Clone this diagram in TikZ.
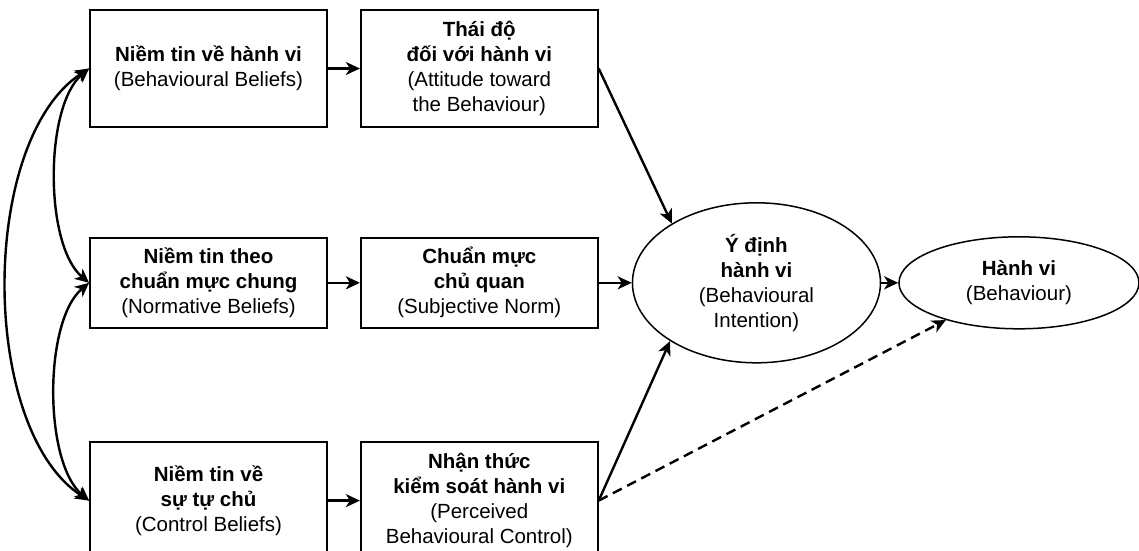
\documentclass[tikz,border=0pt]{standalone}
\usepackage{fontspec}
\setmainfont{Liberation Sans}
\usetikzlibrary{positioning,arrows.meta,shapes.geometric}

\tikzset{
  box/.style={draw, line width=1.8pt, minimum width=237pt, align=center, inner sep=0pt},
  oval/.style={draw, ellipse, line width=1.5pt, align=center, inner sep=0pt},
  link/.style={line width=2.4pt, -{Stealth[length=14pt,width=13pt,inset=4pt]}},
  twoway/.style={line width=2.4pt, {Stealth[length=14pt,width=13pt,inset=4pt]}-{Stealth[length=14pt,width=13pt,inset=4pt]}},
}

\begin{document}
\begin{tikzpicture}[x=1pt, y=1pt, font=\fontsize{20.5}{25}\selectfont]
    \clip (0,0) rectangle (1139,-550);
    \node [box, minimum height=117pt] (bb) at (208.5,-68.5) {\textbf{Niềm tin về hành vi}\\(Behavioural Beliefs)};
    \node [box, minimum height=117pt, right=32pt of bb] (att) {\textbf{Thái độ}\\\textbf{đối với hành vi}\\(Attitude toward\\the Behaviour)};
    \node [box, minimum height=90pt, below=109pt of bb] (nb) {\textbf{Niềm tin theo}\\\textbf{chuẩn mực chung}\\(Normative Beliefs)};
    \node [box, minimum height=90pt, right=32pt of nb] (sn) {\textbf{Chuẩn mực}\\\textbf{chủ quan}\\(Subjective Norm)};
    \node [box, minimum height=118pt, below=112pt of nb] (cb) {\textbf{Niềm tin về}\\\textbf{sự tự chủ}\\(Control Beliefs)};
    \node [box, minimum height=118pt, right=32pt of cb] (pbc) {\textbf{Nhận thức}\\\textbf{kiểm soát hành vi}\\(Perceived\\Behavioural Control)};
    \node [oval, minimum width=248pt, minimum height=160pt, right=33pt of sn] (bi) {\textbf{Ý định}\\\textbf{hành vi}\\(Behavioural\\Intention)};
    \node [oval, minimum width=240pt, minimum height=92pt, right=17pt of bi] (beh) {\textbf{Hành vi}\\(Behaviour)};

    \draw [link] (bb) -- (att);
    \draw [link] (nb) -- (sn);
    \draw [link] (cb) -- (pbc);
    \draw [link] (att.east) -- (bi.145);
    \draw [link] (sn) -- (bi);
    \draw [link] (pbc.east) -- (bi.214);
    \draw [link] (bi) -- (beh);
    \draw [link, dash pattern=on 10pt off 6pt] (pbc.east) -- (beh.207);

    \draw [twoway] (bb.west) to [out=220, in=140, looseness=0.7] (nb.west);
    \draw [twoway] (nb.west) to [out=220, in=140, looseness=0.7] (cb.west);
    \draw [twoway] (bb.west) to [out=213, in=147, looseness=0.78] (cb.west);
\end{tikzpicture}
\end{document}
